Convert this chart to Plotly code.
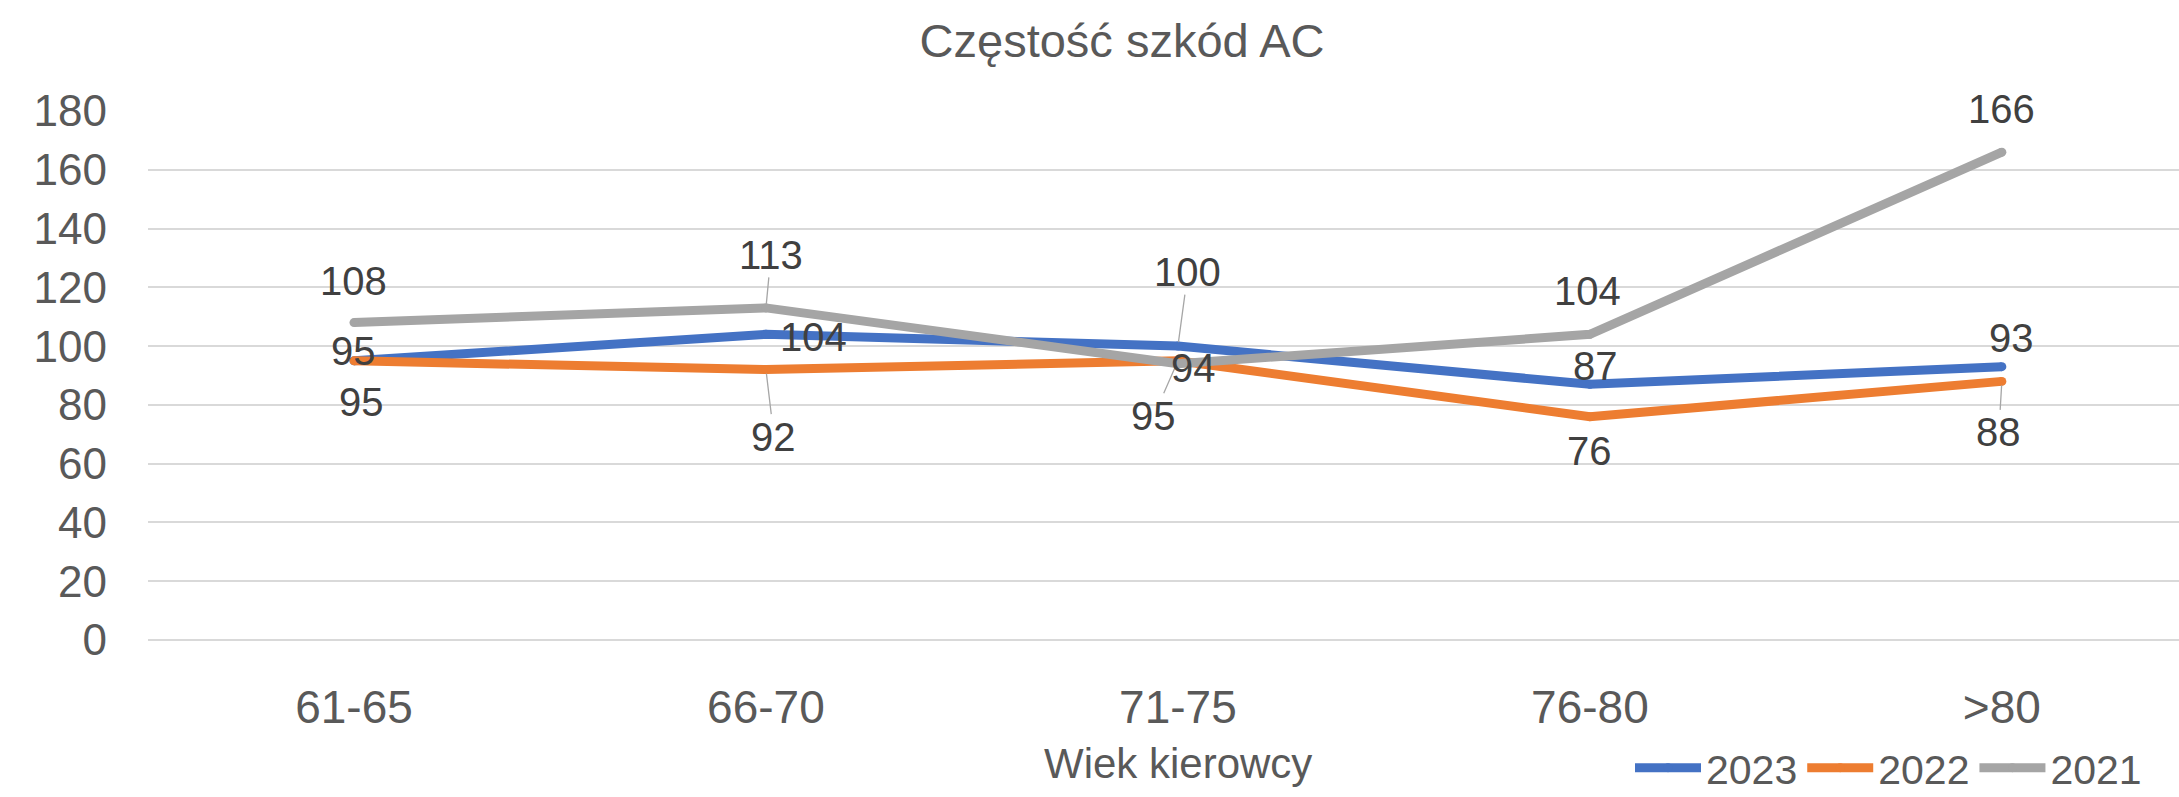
import plotly.graph_objects as go

# ---- data ----
categories = ["61-65", "66-70", "71-75", "76-80", ">80"]
values_2023 = [95, 104, 100, 87, 93]
values_2022 = [95, 92, 95, 76, 88]
values_2021 = [108, 113, 94, 104, 166]
series_names = ["2023", "2022", "2021"]
y_tick_values = [0, 20, 40, 60, 80, 100, 120, 140, 160, 180]

title_text = "Częstość szkód AC"
x_title_text = "Wiek kierowcy"

# ---- styles ----
colors = ["#4472C4", "#ED7D31", "#A5A5A5"]
FONT = "Liberation Sans, Arial, sans-serif"
TXT = "#595959"
LBL = "#404040"
W, H = 2179, 797
ML, MR, MT, MB = 148, 0, 111, 157

# label offsets in pixels (dx, dy) and whether a leader line is drawn
label_style = {
    "2023": [(0, -10, False), (48, 3, False), (10, -74, True), (6, -18, False), (10, -29, False)],
    "2022": [(8, 41, False), (8, 67, True), (-24, 55, True), (0, 34, False), (-3, 51, True)],
    "2021": [(0, -42, False), (5, -53, True), (16, 4, False), (-2, -43, False), (0, -43, False)],
}

all_series = [values_2023, values_2022, values_2021]

fig = go.Figure()
for name, vals, col in zip(series_names, all_series, colors):
    fig.add_trace(go.Scatter(
        x=categories, y=vals, name=name, mode="lines+markers",
        line=dict(color=col, width=9),
        marker=dict(color=col, size=9, line=dict(width=0)),
        hoverinfo="skip",
    ))

annotations = []
for name, vals in zip(series_names, all_series):
    for cat, v, (dx, dy, leader) in zip(categories, vals, label_style[name]):
        annotations.append(dict(
            x=cat, y=v, xref="x", yref="y", text=str(v),
            showarrow=True, ax=dx, ay=dy, axref="pixel", ayref="pixel",
            arrowhead=0, arrowwidth=1.3,
            arrowcolor="#A6A6A6" if leader else "rgba(0,0,0,0)",
            standoff=4 if leader else 0, borderpad=0,
            font=dict(family=FONT, size=40, color=LBL),
        ))

# axis title centred under middle category
annotations.append(dict(
    x=categories[2], xref="x", y=0, yref="paper", yshift=-123,
    text=x_title_text, showarrow=False, xanchor="center", yanchor="middle",
    font=dict(family=FONT, size=42, color=TXT),
))

fig.update_layout(
    width=W, height=H,
    margin=dict(l=ML, r=MR, t=MT, b=MB, pad=0, autoexpand=False),
    paper_bgcolor="white", plot_bgcolor="white",
    title=dict(text=title_text, x=1122 / W, xanchor="center",
               y=1 - 41 / H, yanchor="middle", yref="container",
               font=dict(family=FONT, size=47, color=TXT)),
    xaxis=dict(
        type="category", categoryorder="array", categoryarray=categories,
        range=[-0.5, 4.43], showgrid=False, showline=False, zeroline=False,
        ticks="", ticklabelstandoff=36, automargin=False,
        tickfont=dict(family=FONT, size=46, color=TXT),
    ),
    yaxis=dict(
        range=[0, 180], tickvals=y_tick_values,
        showgrid=True, gridcolor="#D9D9D9", gridwidth=2,
        zeroline=True, zerolinecolor="#D9D9D9", zerolinewidth=2,
        showline=False, ticks="", ticklabelstandoff=40, automargin=False,
        tickfont=dict(family=FONT, size=44, color=TXT),
    ),
    legend=dict(
        orientation="h", xref="container", yref="container",
        x=2147 / W, xanchor="right", y=1 - 768 / H, yanchor="middle",
        itemwidth=66, font=dict(family=FONT, size=41, color=TXT),
        bgcolor="rgba(0,0,0,0)", tracegroupgap=0, itemclick=False,
    ),
    annotations=annotations,
    showlegend=True,
)

fig.write_html(
    "out.html",
    config={"displayModeBar": False},
    post_script="document.body.style.margin='0';document.body.style.overflow='hidden';",
)
